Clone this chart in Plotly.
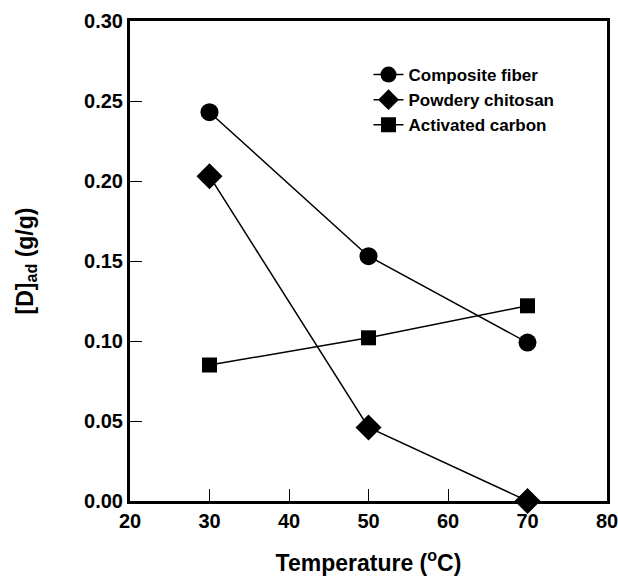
import plotly.graph_objects as go

temps = [30, 50, 70]
composite_fiber = [0.243, 0.153, 0.099]
powdery_chitosan = [0.203, 0.046, 0.0]
activated_carbon = [0.085, 0.102, 0.122]

series = [
    ("Composite fiber", composite_fiber, "circle", 18),
    ("Powdery chitosan", powdery_chitosan, "diamond", 20),
    ("Activated carbon", activated_carbon, "square", 15),
]

fig = go.Figure()
for name, vals, sym, size in series:
    fig.add_trace(go.Scatter(
        x=temps, y=vals, name=name, mode="lines+markers",
        line=dict(color="black", width=1.5),
        marker=dict(symbol=sym, size=size, color="black"),
        cliponaxis=False,
    ))

font_family = "Liberation Sans, Arial, sans-serif"
fig.update_layout(
    width=618, height=578,
    margin=dict(l=130, r=11, t=21, b=77, autoexpand=False),
    paper_bgcolor="white", plot_bgcolor="white",
    font=dict(family=font_family, color="black"),
    showlegend=True,
    legend=dict(
        x=0.5, y=0.925, xanchor="left", yanchor="top",
        font=dict(size=17, family=font_family, weight="bold"),
        bgcolor="rgba(0,0,0,0)", borderwidth=0,
        tracegroupgap=0, itemwidth=30,
    ),
)
fig.update_xaxes(
    range=[20, 80], tickvals=[20, 30, 40, 50, 60, 70, 80],
    showline=True, linewidth=3, linecolor="black", mirror=True,
    ticks="inside", ticklen=12, tickwidth=1.2, tickcolor="black",
    showgrid=False, zeroline=False, automargin=False,
    ticklabeloverflow="allow",
    tickfont=dict(size=20, family=font_family, weight="bold"),
    title=dict(text="Temperature (<sup>o</sup>C)",
               font=dict(size=23, family=font_family, weight="bold"),
               standoff=24),
)
fig.update_yaxes(
    range=[0, 0.30], tickvals=[0, 0.05, 0.10, 0.15, 0.20, 0.25, 0.30],
    tickformat=".2f",
    showline=True, linewidth=3, linecolor="black", mirror=True,
    ticks="inside", ticklen=12, tickwidth=1.2, tickcolor="black",
    showgrid=False, zeroline=False, automargin=False,
    ticklabeloverflow="allow",
    tickfont=dict(size=20, family=font_family, weight="bold"),
    title=dict(text="[D]<sub>ad</sub> (g/g)",
               font=dict(size=23, family=font_family, weight="bold"),
               standoff=45),
)

fig.write_html("out.html")
